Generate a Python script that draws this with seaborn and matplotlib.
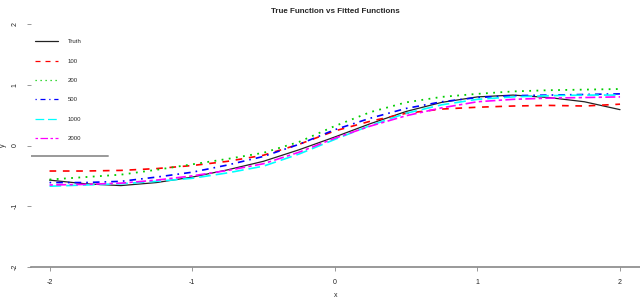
import numpy as np
import pandas as pd
import seaborn as sns
import matplotlib.pyplot as plt
from matplotlib.lines import Line2D

# data
x = [-2.0, -1.75, -1.5, -1.25, -1.0, -0.75, -0.5, -0.25, 0.0,
     0.25, 0.5, 0.75, 1.0, 1.25, 1.5, 1.75, 2.0]
truth = [-0.57, -0.63, -0.66, -0.61, -0.52, -0.40, -0.26, -0.07, 0.14,
         0.36, 0.56, 0.71, 0.80, 0.83, 0.79, 0.72, 0.59]
fit_100 = [-0.42, -0.42, -0.41, -0.38, -0.33, -0.26, -0.16, 0.02, 0.24,
           0.40, 0.53, 0.60, 0.63, 0.65, 0.66, 0.65, 0.68]
fit_200 = [-0.56, -0.52, -0.48, -0.40, -0.31, -0.22, -0.12, 0.06, 0.32,
           0.55, 0.71, 0.80, 0.85, 0.89, 0.91, 0.92, 0.93]
fit_500 = [-0.61, -0.61, -0.59, -0.52, -0.44, -0.32, -0.18, 0.02, 0.26,
           0.45, 0.61, 0.72, 0.79, 0.82, 0.83, 0.84, 0.85]
fit_1000 = [-0.67, -0.65, -0.63, -0.59, -0.54, -0.45, -0.34, -0.14, 0.10,
            0.33, 0.53, 0.67, 0.76, 0.80, 0.82, 0.83, 0.83]
fit_2000 = [-0.65, -0.64, -0.62, -0.57, -0.50, -0.41, -0.30, -0.11, 0.12,
            0.32, 0.49, 0.62, 0.72, 0.76, 0.78, 0.79, 0.80]

labels = ["Truth", "100", "200", "500", "1000", "2000"]
series = [truth, fit_100, fit_200, fit_500, fit_1000, fit_2000]
colors = ["#222222", "red", "#00CD00", "blue", "cyan", "magenta"]
styles = ["-", (0, (4, 4)), (0, (1, 3)), (0, (1, 3, 4, 3)), (0, (7, 3)), (0, (2, 2, 6, 2))]
widths = [0.9, 1.2, 1.3, 1.2, 1.2, 1.2]

sns.set_style("white")
plt.rcParams['font.family'] = ['Liberation Sans', 'DejaVu Sans']

fig = plt.figure(figsize=(6.4, 3.01), dpi=100)
ax = fig.add_axes([31 / 640, 34 / 301, 609 / 640, 243 / 301])

for vals, col, ls, lw in zip(series, colors, styles, widths):
    sns.lineplot(x=x, y=vals, color=col, linestyle=ls, linewidth=lw, ax=ax)

ax.set_xlim(-2.13, 2.14)
ax.set_ylim(-2, 2)
ax.set_xticks([-2, -1, 0, 1, 2])
ax.set_yticks([-2, -1, 0, 1, 2])
ax.set_xticklabels(["-2", "-1", "0", "1", "2"], fontsize=5, color="#222222")
ax.set_yticklabels(["-2", "-1", "0", "1", "2"], fontsize=5, color="#222222",
                   rotation=90, va="center")
ax.tick_params(axis="x", length=3, width=0.6, color="#888888", pad=6, direction="out", bottom=True)
ax.tick_params(axis="y", length=3, width=0.6, color="#888888", pad=6, direction="out", left=True)

for s in ["top", "right", "left"]:
    ax.spines[s].set_visible(False)
ax.spines["bottom"].set_color("#888888")
ax.spines["bottom"].set_linewidth(1.2)

ax.set_xlabel("x", fontsize=5, labelpad=4)
ax.set_ylabel("y", fontsize=5, labelpad=3)
ax.set_title("True Function vs Fitted Functions", fontsize=5.8, fontweight="bold", pad=8)

# legend, thin handles like the reference
handles = [Line2D([], [], color=c, linestyle=ls, linewidth=0.9) for c, ls in zip(colors, styles)]
ax.legend(handles, labels, loc="upper left", bbox_to_anchor=(0.0, 0.955), frameon=False,
          fontsize=4.3, handlelength=3.8, handletextpad=1.6, labelspacing=2.38,
          borderaxespad=0.3)
ax.axhline(-0.18, xmin=0.0, xmax=0.127, color="#999999", linewidth=1.4)

plt.savefig("out.png", dpi=100)
